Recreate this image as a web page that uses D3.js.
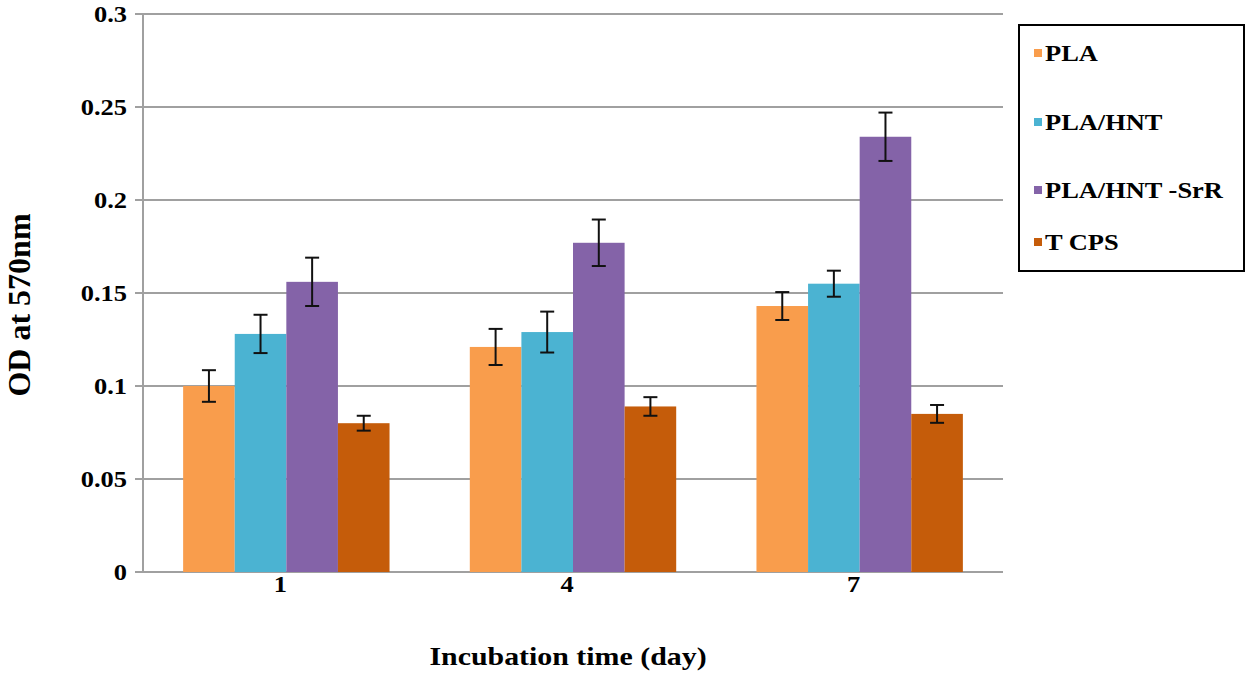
<!DOCTYPE html>
<html>
<head>
<meta charset="utf-8">
<script src="https://cdn.jsdelivr.net/npm/d3@7"></script>
<style>
  body { margin: 0; background: #fff; }
  text { font-family: "Liberation Serif", "Times New Roman", serif; font-weight: bold; fill: #000; }
</style>
</head>
<body>
<svg id="chart" width="1250" height="677"></svg>
<script>
// data
var days = ["1", "4", "7"];
var seriesNames = ["PLA", "PLA/HNT", "PLA/HNT -SrR", "T CPS"];
var seriesColors = ["#F99D4C", "#4BB3D2", "#8463A8", "#C55C0A"];
var plaVals   = [0.100, 0.121, 0.143];
var hntVals   = [0.128, 0.129, 0.155];
var srrVals   = [0.156, 0.177, 0.234];
var tcpsVals  = [0.080, 0.089, 0.085];
var plaErr    = [0.0085, 0.0097, 0.0075];
var hntErr    = [0.0103, 0.0110, 0.0070];
var srrErr    = [0.0130, 0.0125, 0.0130];
var tcpsErr   = [0.0040, 0.0050, 0.0048];
var yTicks    = [0, 0.05, 0.1, 0.15, 0.2, 0.25, 0.3];

var values = [plaVals, hntVals, srrVals, tcpsVals];
var errors = [plaErr, hntErr, srrErr, tcpsErr];

var svg = d3.select("#chart");
var pLeft = 143, pRight = 1003, pTop = 14, pBottom = 572;
var stretch = 1.15; //text in the picture is a bit wide

var x = d3.scaleBand().domain(days).range([pLeft, pRight]).paddingInner(0.28).paddingOuter(0.14);
var xs = d3.scaleBand().domain(d3.range(4)).range([0, x.bandwidth()]);
var y = d3.scaleLinear().domain([0, 0.3]).range([pBottom, pTop]);

//wide text helper
function wideText(g, tx, ty, str, size, anchor) {
	return g.append("text")
		.attr("transform", "translate(" + tx + "," + ty + ") scale(" + stretch + ",1)")
		.attr("text-anchor", anchor || "start")
		.style("font-size", size + "px")
		.text(str);
}

//gridlines + tick marks
svg.append("g").selectAll("line").data(yTicks).join("line")
	.attr("x1", pLeft - 8).attr("x2", pRight)
	.attr("y1", function(d) { return y(d); }).attr("y2", function(d) { return y(d); })
	.attr("stroke", "#a0a0a0").attr("stroke-width", 2);

svg.append("line").attr("x1", pLeft).attr("x2", pLeft).attr("y1", pTop).attr("y2", pBottom)
	.attr("stroke", "#a0a0a0").attr("stroke-width", 2);

//y labels
var yl = svg.append("g");
yTicks.forEach(function(d) {
	wideText(yl, 127, y(d) + 8, d === 0 ? "0" : String(d), 23, "end");
});

//bars
var rows = [];
values.forEach(function(vals, s) {
	vals.forEach(function(v, i) {
		rows.push({ s: s, day: days[i], v: v, e: errors[s][i] });
	});
});

svg.append("g").selectAll("rect").data(rows).join("rect")
	.attr("x", function(d) { return x(d.day) + xs(d.s); })
	.attr("width", xs.bandwidth())
	.attr("y", function(d) { return y(d.v); })
	.attr("height", function(d) { return y(0) - y(d.v); })
	.attr("fill", function(d) { return seriesColors[d.s]; });

//error bars
var eb = svg.append("g").attr("stroke", "#111").attr("stroke-width", 2);
rows.forEach(function(d) {
	var cx = x(d.day) + xs(d.s) + xs.bandwidth() / 2;
	eb.append("line").attr("x1", cx).attr("x2", cx).attr("y1", y(d.v + d.e)).attr("y2", y(d.v - d.e));
	eb.append("line").attr("x1", cx - 7).attr("x2", cx + 7).attr("y1", y(d.v + d.e)).attr("y2", y(d.v + d.e));
	eb.append("line").attr("x1", cx - 7).attr("x2", cx + 7).attr("y1", y(d.v - d.e)).attr("y2", y(d.v - d.e));
});

//x labels
var xl = svg.append("g");
days.forEach(function(d) {
	wideText(xl, x(d) + x.bandwidth() / 2 - 6, 592, d, 23, "middle");
});

//axis titles
wideText(svg, 568, 665, "Incubation time (day)", 26, "middle");

svg.append("text").attr("transform", "translate(30,305) rotate(-90)")
	.attr("text-anchor", "middle").style("font-size", "32px").text("OD at 570nm");

//legend
svg.append("rect").attr("x", 1019).attr("y", 25).attr("width", 225).attr("height", 246)
	.attr("fill", "#fff").attr("stroke", "#000").attr("stroke-width", 2);

var legY = [53, 122, 190, 242];
var leg = svg.append("g");
seriesNames.forEach(function(d, i) {
	leg.append("rect").attr("x", 1034).attr("y", legY[i] - 4).attr("width", 8).attr("height", 8)
		.attr("fill", seriesColors[i]);
	wideText(leg, 1045, legY[i] + 8, d, 23, "start");
});
</script>
</body>
</html>
